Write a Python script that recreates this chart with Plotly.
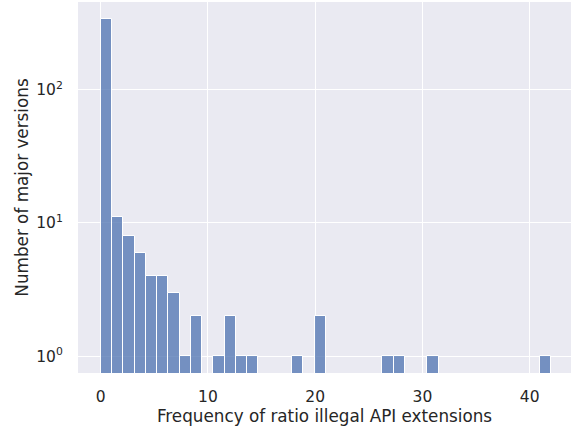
import plotly.graph_objects as go

# Histogram of per-version illegal API extension ratios (40 equal-width bins)
bin_start = 0.0
bin_width = 1.05
bin_counts = [343, 11, 8, 6, 4, 4, 3, 1, 2, 0,
              1, 2, 1, 1, 0, 0, 0, 1, 0, 2,
              0, 0, 0, 0, 0, 1, 1, 0, 0, 1,
              0, 0, 0, 0, 0, 0, 0, 0, 0, 1]
x_ticks = [0, 10, 20, 30, 40]
y_ticks = [1, 10, 100]
y_tick_labels = ["10<sup>0</sup>", "10<sup>1</sup>", "10<sup>2</sup>"]

centers = [bin_start + (i + 0.5) * bin_width for i in range(len(bin_counts))]
xs = [c for c, n in zip(centers, bin_counts) if n > 0]
ys = [n for n in bin_counts if n > 0]

fig = go.Figure(
    go.Bar(
        x=xs,
        y=ys,
        width=bin_width,
        marker=dict(color="rgba(76,114,176,0.75)",
                    line=dict(color="white", width=1)),
    )
)

text_color = "#262626"
fig.update_layout(
    width=571,
    height=427,
    margin=dict(l=78, r=0, t=2, b=54),
    paper_bgcolor="white",
    plot_bgcolor="#EAEAF2",
    font=dict(family="DejaVu Sans", size=15.5, color=text_color),
    showlegend=False,
    bargap=0,
)
fig.update_xaxes(
    range=[-2.12, 43.85],
    tickvals=x_ticks,
    showgrid=True,
    gridcolor="white",
    gridwidth=1.3,
    zeroline=False,
    showline=False,
    ticks="outside",
    ticklen=9,
    tickcolor="rgba(0,0,0,0)",
    tickfont=dict(size=15.5),
    title=dict(text="Frequency of ratio illegal API extensions",
               font=dict(size=16.8), standoff=4),
)
fig.update_yaxes(
    type="log",
    range=[-0.127, 2.66],
    tickvals=y_ticks,
    ticktext=y_tick_labels,
    showgrid=True,
    gridcolor="white",
    gridwidth=1.3,
    zeroline=False,
    showline=False,
    ticks="outside",
    ticklen=11,
    tickcolor="rgba(0,0,0,0)",
    tickfont=dict(size=15.5),
    title=dict(text="Number of major versions", font=dict(size=16.8), standoff=3),
)

fig.write_html("out.html")
